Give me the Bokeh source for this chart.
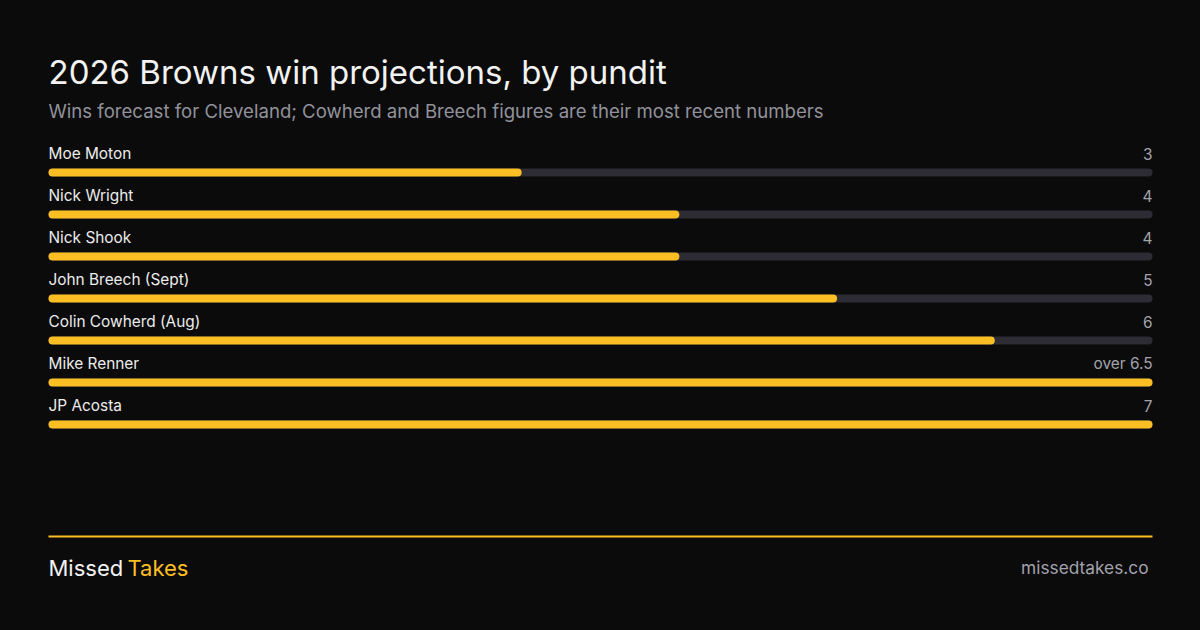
from bokeh.plotting import figure
from bokeh.models import ColumnDataSource, Range1d, Label
from bokeh.core.properties import value
from bokeh.embed import file_html
from bokeh.resources import INLINE

# data
pundits = ["Moe Moton", "Nick Wright", "Nick Shook", "John Breech (Sept)",
           "Colin Cowherd (Aug)", "Mike Renner", "JP Acosta"]
wins = [3, 4, 4, 5, 6, 7, 7]
win_labels = ["3", "4", "4", "5", "6", "over 6.5", "7"]
scale_max = 7

BG = "#0b0b0b"
YELLOW = "#fbbf24"
TRACK = "#2d2b33"
FONT = "Inter"

W, H = 1200, 630
left, right = 48, 1152          # pixels where 0 and scale_max sit
per_px = scale_max / (right - left)

p = figure(width=W, height=H, output_backend="svg", toolbar_location=None,
           x_range=Range1d(-left * per_px, scale_max + (W - right) * per_px),
           y_range=Range1d(H, 0), min_border=0,
           background_fill_color=BG, border_fill_color=BG)
p.axis.visible = False
p.grid.visible = False
p.outline_line_color = None

# row layout (pixels from the top)
row0, step = 172, 42
bar_y = [row0 + step * i for i in range(len(pundits))]
lab_y = [y - 19 for y in bar_y]

src = ColumnDataSource(data=dict(
    name=pundits, wins=wins, lab=win_labels, bar_y=bar_y, lab_y=lab_y,
    zero=[0] * len(pundits), full=[scale_max] * len(pundits)))

p.hbar(y="bar_y", left="zero", right="full", height=8, source=src,
       fill_color=TRACK, line_color=None, border_radius=4)
p.hbar(y="bar_y", left="zero", right="wins", height=8, source=src,
       fill_color=YELLOW, line_color=None, border_radius=4)

p.text(x="zero", y="lab_y", text="name", source=src, text_font=value(FONT),
       text_font_size="15.4px", text_color="#ececec", text_baseline="middle")
p.text(x="full", y="lab_y", text="lab", source=src, text_font=value(FONT),
       text_font_size="15.4px", text_color="#a3a3ab", text_baseline="middle",
       text_align="right")

# titles
p.add_layout(Label(x=48, y=H - 71, x_units="screen", y_units="screen",
                   text="2026 Browns win projections, by pundit",
                   text_font=FONT, text_font_size="33px", text_color="#f2f2f2",
                   text_baseline="middle"))
p.add_layout(Label(x=48, y=H - 110, x_units="screen", y_units="screen",
                   text="Wins forecast for Cleveland; Cowherd and Breech figures are their most recent numbers",
                   text_font=FONT, text_font_size="18.6px", text_color="#92929b",
                   text_baseline="middle"))

# footer
p.segment(x0=[0], y0=[536], x1=[scale_max], y1=[536], line_color=YELLOW,
          line_width=2)
p.add_layout(Label(x=48, y=H - 567, x_units="screen", y_units="screen",
                   text="Missed", text_font=FONT, text_font_size="22px",
                   text_color="#f2f2f2", text_baseline="middle"))
p.add_layout(Label(x=127, y=H - 567, x_units="screen", y_units="screen",
                   text="Takes", text_font=FONT, text_font_size="22px",
                   text_color=YELLOW, text_baseline="middle"))
p.add_layout(Label(x=1148, y=H - 567, x_units="screen", y_units="screen",
                   text="missedtakes.co", text_font=FONT, text_font_size="17.3px",
                   text_color="#a3a3ab", text_baseline="middle",
                   text_align="right"))

html = file_html(p, INLINE)
html = html.replace("<head>", "<head><style>body{background:%s}</style>" % BG, 1)
open("out.html", "w").write(html)
